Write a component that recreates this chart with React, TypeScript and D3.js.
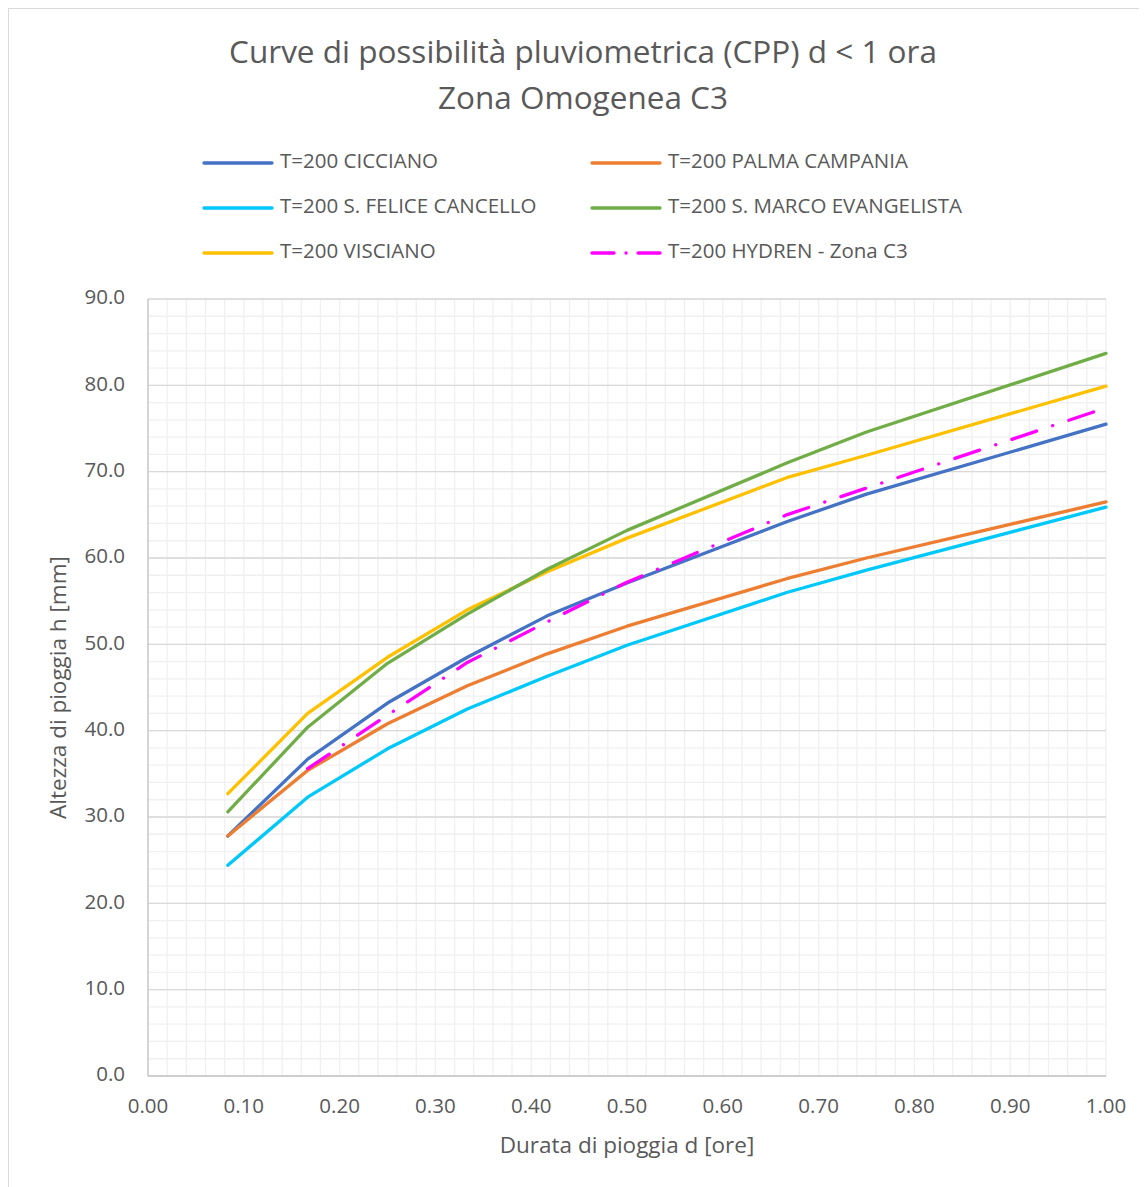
import React from "react";
import * as d3 from "d3";

const durationsMin = [5, 10, 15, 20, 25, 30, 40, 45, 60];
const hydrenDurationsMin = [10, 15, 20, 25, 30, 40, 45, 60];

const cicciano = [27.8, 36.7, 43.2, 48.5, 53.3, 57.1, 64.2, 67.4, 75.5];
const palma = [27.8, 35.4, 40.8, 45.2, 48.9, 52.1, 57.6, 60.0, 66.5];
const sFelice = [24.4, 32.3, 37.9, 42.5, 46.3, 49.9, 56.0, 58.6, 65.9];
const sMarco = [30.6, 40.4, 47.8, 53.5, 58.7, 63.2, 71.0, 74.6, 83.7];
const visciano = [32.7, 42.0, 48.5, 54.0, 58.4, 62.3, 69.3, 71.9, 79.9];
const hydren = [35.6, 41.8, 47.9, 52.6, 57.2, 65.0, 68.1, 77.4];

const seriesNames = [
  "T=200 CICCIANO",
  "T=200 PALMA CAMPANIA",
  "T=200 S. FELICE CANCELLO",
  "T=200 S. MARCO EVANGELISTA",
  "T=200 VISCIANO",
  "T=200 HYDREN - Zona C3",
];
const seriesColors = ["#4472C4", "#ED7D31", "#00C8FA", "#70AD47", "#FFC000", "#FF00FF"];

const yTicks = [0, 10, 20, 30, 40, 50, 60, 70, 80, 90];
const xTicks = [0, 0.1, 0.2, 0.3, 0.4, 0.5, 0.6, 0.7, 0.8, 0.9, 1.0];

const titleLines = ["Curve di possibilità pluviometrica (CPP) d < 1 ora", "Zona Omogenea C3"];
const xTitle = "Durata di pioggia d [ore]";
const yTitle = "Altezza di pioggia h [mm]";

const FONT = "'Open Sans', sans-serif";
const TXT = "#595959";

export default function App() {
  const W = 1139;
  const H = 1179;
  const left = 140, right = 1098, top = 291, bottom = 1068;
  const x = d3.scaleLinear().domain([0, 1]).range([left, right]);
  const y = d3.scaleLinear().domain([0, 90]).range([bottom, top]);

  const line = d3
    .line<[number, number]>()
    .x((d) => x(d[0]))
    .y((d) => y(d[1]));

  const allSeries = [
    { name: seriesNames[0], color: seriesColors[0], xs: durationsMin, ys: cicciano, dash: null },
    { name: seriesNames[1], color: seriesColors[1], xs: durationsMin, ys: palma, dash: null },
    { name: seriesNames[2], color: seriesColors[2], xs: durationsMin, ys: sFelice, dash: null },
    { name: seriesNames[3], color: seriesColors[3], xs: durationsMin, ys: sMarco, dash: null },
    { name: seriesNames[4], color: seriesColors[4], xs: durationsMin, ys: visciano, dash: null },
    { name: seriesNames[5], color: seriesColors[5], xs: hydrenDurationsMin, ys: hydren, dash: "26 17 0.1 17" },
  ];
  const drawOrder = [4, 3, 0, 1, 2, 5];

  const minorX = d3.range(0, 51).map((i) => i * 0.02);
  const minorY = d3.range(0, 46).map((i) => i * 2);

  const legendPos = [
    [196, 155], [584, 155],
    [196, 200], [584, 200],
    [196, 245], [584, 245],
  ];

  return (
    <svg width={W} height={H} style={{ display: "block" }} fontFamily={FONT}>
      <rect x={0} y={0} width={W} height={H} fill="#fff" />
      <line x1={0.5} y1={0.5} x2={W} y2={0.5} stroke="#d9d9d9" strokeWidth={1} />
      <line x1={0.5} y1={0.5} x2={0.5} y2={H} stroke="#d9d9d9" strokeWidth={1} />

      {titleLines.map((t, i) => (
        <text key={t} x={575} y={47 + i * 46} textAnchor="middle" dominantBaseline="middle" fontSize={31.5} fill={TXT}>
          {t}
        </text>
      ))}

      {/* grid */}
      <g>
        {minorY.map((v) => (
          <line key={"my" + v} x1={left} x2={right} y1={y(v)} y2={y(v)} stroke="#f0f0f0" strokeWidth={1.3} />
        ))}
        {minorX.map((v) => (
          <line key={"mx" + v} x1={x(v)} x2={x(v)} y1={top} y2={bottom} stroke="#f0f0f0" strokeWidth={1.3} />
        ))}
        {yTicks.map((v) => (
          <line key={"gy" + v} x1={left} x2={right} y1={y(v)} y2={y(v)} stroke="#d9d9d9" strokeWidth={1.3} />
        ))}
        <line x1={left} x2={left} y1={top} y2={bottom} stroke="#c8c8c8" strokeWidth={1.5} />
        <line x1={left} x2={right} y1={bottom} y2={bottom} stroke="#c8c8c8" strokeWidth={1.5} />
      </g>

      {/* ticks */}
      {yTicks.map((v) => (
        <text key={"ty" + v} x={left - 23} y={y(v)} textAnchor="end" dominantBaseline="middle" fontSize={20.5} fill={TXT}>
          {v.toFixed(1)}
        </text>
      ))}
      {xTicks.map((v) => (
        <text key={"tx" + v} x={x(v)} y={bottom + 32} textAnchor="middle" dominantBaseline="middle" fontSize={20.5} fill={TXT}>
          {v.toFixed(2)}
        </text>
      ))}
      <text x={(left + right) / 2} y={1139} textAnchor="middle" dominantBaseline="middle" fontSize={22.5} fill={TXT}>
        {xTitle}
      </text>
      <text
        transform={`translate(52, ${(top + bottom) / 2}) rotate(-90)`}
        textAnchor="middle"
        dominantBaseline="middle"
        fontSize={22.5}
        fill={TXT}
      >
        {yTitle}
      </text>

      {/* series */}
      {drawOrder.map((i) => {
        const s = allSeries[i];
        const pts: [number, number][] = s.xs.map((m, k) => [m / 60, s.ys[k]]);
        return (
          <path
            key={s.name}
            d={line(pts) || ""}
            fill="none"
            stroke={s.color}
            strokeWidth={3.3}
            strokeLinejoin="round"
            strokeLinecap="round"
            strokeDasharray={s.dash || undefined}
          />
        );
      })}

      {/* legend */}
      {allSeries.map((s, i) => {
        const [lx, ly] = legendPos[i];
        return (
          <g key={"lg" + i}>
            <line
              x1={lx}
              x2={lx + 68}
              y1={ly}
              y2={ly}
              stroke={s.color}
              strokeWidth={3.3}
              strokeLinecap="round"
              strokeDasharray={s.dash ? "22 12 0.1 12" : undefined}
            />
            <text x={lx + 76} y={ly} dominantBaseline="middle" fontSize={20.5} fill={TXT}>
              {s.name}
            </text>
          </g>
        );
      })}
    </svg>
  );
}
